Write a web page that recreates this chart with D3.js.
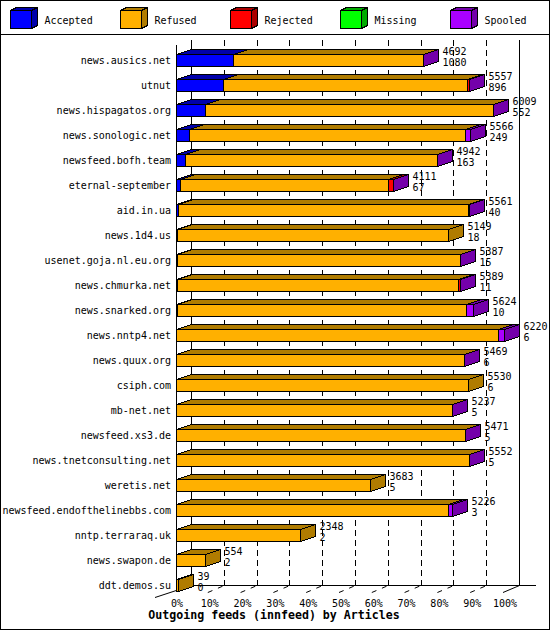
<!DOCTYPE html>
<html>
<head>
<meta charset="utf-8">
<script src="https://cdn.jsdelivr.net/npm/d3@7/dist/d3.min.js"></script>
<style>
  html, body { margin: 0; padding: 0; background: #fff; }
  svg { display: block; }
  text { font-family: "DejaVu Sans Mono", "Liberation Mono", monospace; font-size: 10px; fill: #000; }
</style>
</head>
<body>
<svg id="chart" width="550" height="630"></svg>
<script>
/* innfeed outgoing feeds — 3D stacked hbars */
var hosts = ['news.ausics.net', 'utnut', 'news.hispagatos.org', 'news.sonologic.net', 'newsfeed.bofh.team',
  'eternal-september', 'aid.in.ua', 'news.1d4.us', 'usenet.goja.nl.eu.org', 'news.chmurka.net',
  'news.snarked.org', 'news.nntp4.net', 'news.quux.org', 'csiph.com', 'mb-net.net', 'newsfeed.xs3.de',
  'news.tnetconsulting.net', 'weretis.net', 'newsfeed.endofthelinebbs.com', 'nntp.terraraq.uk',
  'news.swapon.de', 'ddt.demos.su'];
var offered  = [4692, 5557, 6009, 5566, 4942, 4111, 5561, 5149, 5387, 5389, 5624, 6220, 5469, 5530, 5237, 5471, 5552, 3683, 5226, 2348, 554, 39];
var accepted = [1080, 896, 552, 249, 163, 67, 40, 18, 15, 11, 10, 6, 6, 6, 5, 5, 5, 5, 3, 2, 2, 0];
var refused  = [3612, 4631, 5457, 5232, 4779, 3954, 5491, 5131, 5372, 5343, 5484, 6104, 5463, 5524, 5220, 5466, 5547, 3678, 5148, 2346, 552, 39];
var rejected = [null, 30, null, null, null, 90, 30, null, null, 35, null, null, null, null, 12, null, null, null, null, null, null, null];
var missing  = [null, null, null, null, null, null, null, null, null, null, null, null, null, null, null, null, null, null, null, null, null, null];
var spooled  = [0, 0, 0, 85, 0, 0, 0, null, 0, 0, 130, 110, 0, null, 0, 0, 0, null, 75, null, null, null];
var seriesNames = ['Accepted', 'Refused', 'Rejected', 'Missing', 'Spooled'];
var tickPct = [0, 10, 20, 30, 40, 50, 60, 70, 80, 90, 100];
var title = 'Outgoing feeds (innfeed) by Articles';

var COL = { Accepted: ['#0000ff', '#0000aa'], Refused: ['#ffb000', '#b07c00'], Rejected: ['#ff0000', '#aa0000'],
  Missing: ['#00ff00', '#00aa00'], Spooled: ['#aa00ff', '#7400aa'] };
var series = [accepted, refused, rejected, missing, spooled];
var DX = 15, DY = -5;

var svg = d3.select('#chart');
svg.append('rect').attr('x', 0.5).attr('y', 0.5).attr('width', 549).attr('height', 629).attr('fill', '#fff').attr('stroke', '#000');

var x = d3.scaleLinear().domain([0, d3.max(offered)]).range([176, 504]);
var pct = d3.scaleLinear().domain([0, 100]).range([176, 504]);
var y = d3.scaleBand().domain(hosts).range([47, 597]).paddingInner(0.52).paddingOuter(0.26);
function px(v) { return Math.round(v) + 0.5; }

function box(g, x0, x1, yt, yb, dx, dy, c) {
  g.append('rect').attr('x', x0).attr('y', yt).attr('width', x1 - x0).attr('height', yb - yt).attr('fill', c[0]).attr('stroke', '#000');
  g.append('polygon').attr('points', [[x0, yt], [x0 + dx, yt + dy], [x1 + dx, yt + dy], [x1, yt]].join(' ')).attr('fill', c[1]).attr('stroke', '#000');
  g.append('polygon').attr('points', [[x1, yt], [x1 + dx, yt + dy], [x1 + dx, yb + dy], [x1, yb]].join(' ')).attr('fill', c[1]).attr('stroke', '#000');
}

// legend
var lg = svg.append('g').attr('shape-rendering', 'crispEdges');
seriesNames.forEach(function (n, i) {
  var lx = 10.5 + 110 * i;
  box(lg, lx, lx + 21, 10.5, 28.5, 6, -3, COL[n]);
  svg.append('text').attr('x', lx + 34).attr('y', 23.5).text(n);
});
svg.append('line').attr('x1', 0).attr('x2', 550).attr('y1', 34.5).attr('y2', 34.5).attr('stroke', '#000');

// walls and floor
var grid = svg.append('g').attr('shape-rendering', 'crispEdges').attr('stroke', '#000').attr('fill', 'none');
grid.selectAll('.gl').data(tickPct.slice(1, -1)).enter().append('line')
  .attr('x1', function (d) { return px(pct(d) + DX); }).attr('x2', function (d) { return px(pct(d) + DX); })
  .attr('y1', 40).attr('y2', 585).attr('stroke-dasharray', '6,4');
grid.append('line').attr('x1', 191.5).attr('x2', 191.5).attr('y1', 39.5).attr('y2', 585.5);
grid.append('line').attr('x1', px(pct(100) + DX)).attr('x2', px(pct(100) + DX)).attr('y1', 39.5).attr('y2', 585.5);
grid.append('line').attr('x1', 191.5).attr('x2', 536).attr('y1', 585.5).attr('y2', 585.5);
grid.append('line').attr('x1', 176.5).attr('x2', 176.5).attr('y1', 44.5).attr('y2', 590.5);
var diag = svg.append('g').attr('stroke', '#000').attr('fill', 'none');
diag.append('line').attr('x1', 155).attr('y1', 597.5).attr('x2', 191.5).attr('y2', 585.5);
diag.selectAll('.tk').data(tickPct.slice(1)).enter().append('line')
  .attr('x1', function (d) { return pct(d) - 1; }).attr('y1', 592.5)
  .attr('x2', function (d) { return pct(d) + DX + 0.5; }).attr('y2', 585.5)
  .attr('stroke-dasharray', function (d) { return d === 100 ? null : '5,6'; });

svg.selectAll('.tl').data(tickPct).enter().append('text')
  .attr('x', function (d) { return pct(d) + 1; }).attr('y', 607).attr('text-anchor', 'middle')
  .text(function (d) { return d + '%'; });

// bars
var bars = svg.append('g').attr('shape-rendering', 'crispEdges');
hosts.forEach(function (h, i) {
  var yt = y(h) + 0.5 - 0.5, yb = yt + y.bandwidth();
  yt = Math.round(yt) + 0.5; yb = Math.round(yb) + 0.5;
  var cum = 0;
  series.forEach(function (s, k) {
    var v = s[i];
    if (v === null) return;
    var x0 = px(x(cum)), x1 = px(x(cum + v));
    box(bars, x0, x1, yt, yb, DX, DY, COL[seriesNames[k]]);
    cum += v;
  });
  var ex = px(x(cum)) + DX + 4;
  svg.append('text').attr('x', ex).attr('y', yt).text(offered[i]);
  svg.append('text').attr('x', ex).attr('y', yt + 11).text(accepted[i]);
  svg.append('text').attr('x', 171).attr('y', (yt + yb) / 2 + 3.5).attr('text-anchor', 'end').text(h);
});

svg.append('text').attr('x', 274).attr('y', 619).attr('text-anchor', 'middle')
  .style('font-size', '11.6px').style('font-weight', 'bold').text(title);
</script>
</body>
</html>
